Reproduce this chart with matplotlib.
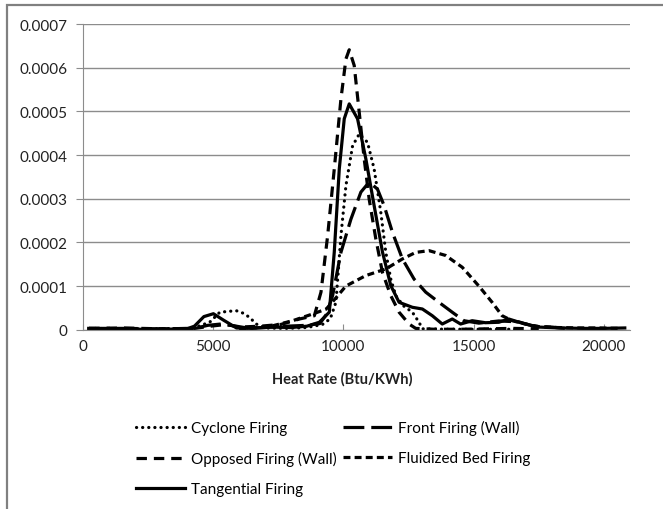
import matplotlib
matplotlib.use("Agg")
import matplotlib.pyplot as plt
import matplotlib.patches as patches
import numpy as np

plt.rcParams['font.family'] = ['Lato', 'DejaVu Sans']
plt.rcParams['lines.scale_dashes'] = False

# --- data ---
cyclone_x = [250, 1500, 3000, 4200, 4870, 5260, 5600, 5892, 6150, 6400, 6657, 7000, 7800, 8600,
             9200, 9500, 9717, 9908, 10100, 10355, 10610, 10929, 11183, 11438, 11630, 11821,
             12013, 12300, 12650, 12905, 13033, 14000, 15000, 16000, 17000]
cyclone_y = [0.000003, 0.000002, 0.000002, 0.000003, 0.000017, 0.00004, 0.000042, 0.0000435,
             0.000038, 0.0000284, 0.000013, 0.000004, 0.000003, 0.000005, 0.000012, 0.000025,
             0.000063, 0.000215, 0.00033, 0.000421, 0.000448, 0.000429, 0.000368, 0.000269,
             0.000177, 0.000116, 0.000078, 0.000055, 0.00004, 0.000017, 0.000002, 0.000001,
             0.000001, 0.000001, 0.000001]

front_x = [250, 1500, 3000, 4300, 4800, 5300, 5800, 6300, 7000, 7800, 8600, 9100, 9350, 9589,
           9908, 10291, 10674, 10992, 11310, 11566, 11885, 12267, 12714, 13161, 13670, 14180,
           14627, 15200, 15966, 16730, 17300, 18000, 18500]
front_y = [0.000003, 0.000003, 0.000002, 0.000003, 0.00001, 0.000013, 0.000009, 0.000004,
           0.000005, 0.000008, 0.00001, 0.000014, 0.000035, 0.000078, 0.000177, 0.000253,
           0.000315, 0.000338, 0.000322, 0.000284, 0.000223, 0.000162, 0.000116, 0.000086,
           0.0000627, 0.00004, 0.0000206, 0.000015, 0.00002, 0.000018, 0.000008, 0.000006,
           0.000003]

opposed_x = [250, 1500, 3000, 4300, 4900, 5500, 6000, 6800, 7600, 8314, 8888, 9143, 9398, 9653,
             9908, 10100, 10227, 10418, 10610, 10801, 10992, 11247, 11502, 11821, 12140, 12522,
             12778, 13500, 14500, 15500, 16500, 17500]
opposed_y = [0.000003, 0.000004, 0.000002, 0.000003, 0.000008, 0.000012, 0.000006, 0.000008,
             0.000012, 0.0000245, 0.000032, 0.000086, 0.000215, 0.000368, 0.000528, 0.00062,
             0.000641, 0.000605, 0.000498, 0.000391, 0.000299, 0.000208, 0.000131, 0.000078,
             0.00004, 0.000013, 0.000003, 0.000001, 0.000001, 0.000002, 0.000003, 0.000002]

fluidized_x = [6000, 6600, 7293, 8058, 8823, 9335, 9462, 10100, 10865, 11630, 12267, 12778,
               13288, 13926, 14563, 15200, 15710, 16093, 16475, 16987, 17500, 18200, 19000,
               19800, 20600]
fluidized_y = [0.000002, 0.000004, 0.000009, 0.0000206, 0.000036, 0.000047, 0.000055, 0.0001,
               0.000124, 0.000139, 0.000162, 0.000177, 0.000181, 0.00017, 0.000143, 0.0001,
               0.0000627, 0.000032, 0.0000206, 0.000013, 0.000007, 0.000005, 0.000004,
               0.000004, 0.000003]

tangential_x = [230, 1000, 2000, 3000, 4000, 4285, 4650, 5015, 5400, 5900, 6500, 7200, 8000,
                8600, 9080, 9462, 9653, 9845, 10036, 10227, 10546, 10865, 11183, 11502, 11821,
                12140, 12650, 13033, 13415, 13797, 14180, 14500, 14945, 15450, 15966, 16350,
                16857, 17500, 18300, 19200, 20000, 20800]
tangential_y = [0.000003, 0.000002, 0.000001, 0.000001, 0.000002, 0.000008, 0.00003, 0.0000366,
                0.000022, 0.000004, 0.000003, 0.000006, 0.000005, 0.000008, 0.000017, 0.00004,
                0.000178, 0.000368, 0.000483, 0.000517, 0.000483, 0.000391, 0.000284, 0.000178,
                0.000101, 0.0000627, 0.0000513, 0.0000474, 0.000032, 0.000013, 0.0000245,
                0.000013, 0.0000206, 0.000016, 0.000017, 0.0000245, 0.000015, 0.000006,
                0.000004, 0.000003, 0.000003, 0.000004]

x_ticks = [0, 5000, 10000, 15000, 20000]
y_ticks = [0, 0.0001, 0.0002, 0.0003, 0.0004, 0.0005, 0.0006, 0.0007]
y_labels = ['0', '0.0001', '0.0002', '0.0003', '0.0004', '0.0005', '0.0006', '0.0007']

# --- figure ---
W, H = 663, 510
fig = plt.figure(figsize=(W / 100, H / 100), dpi=100)
ax = fig.add_axes([82.7 / W, 1 - 330.7 / H, (630 - 82.7) / W, (330.7 - 25) / H])

# chart border (only left and top visible in the crop)
fig.patches.append(patches.Rectangle((7.3 / W, -0.1), 1.2, 1 - 6 / H + 0.1,
                                     transform=fig.transFigure, fill=False,
                                     edgecolor='#808080', linewidth=1.6))

lw = 2.3
c = 'black'
ax.plot(cyclone_x, cyclone_y, color=c, lw=lw, dashes=(0.1, 4.3),
        dash_capstyle='round', label='Cyclone Firing')
ax.plot(front_x, front_y, color=c, lw=lw, dashes=(15, 5), label='Front Firing (Wall)')
ax.plot(opposed_x, opposed_y, color=c, lw=lw, dashes=(7.5, 5), label='Opposed Firing (Wall)')
ax.plot(fluidized_x, fluidized_y, color=c, lw=lw, dashes=(5, 3), label='Fluidized Bed Firing')
ax.plot(tangential_x, tangential_y, color=c, lw=lw, label='Tangential Firing')

ax.set_xlim(0, 21000)
ax.set_ylim(0, 0.0007)
ax.set_xticks(x_ticks)
ax.set_xticklabels([str(v) for v in x_ticks])
ax.set_yticks(y_ticks)
ax.set_yticklabels(y_labels)
ax.yaxis.grid(True, color='#8c8c8c', linewidth=1.0)
ax.set_axisbelow(True)
for s in ['top', 'right']:
    ax.spines[s].set_visible(False)
ax.spines['left'].set_color('#8c8c8c')
ax.spines['bottom'].set_color('#8c8c8c')
ax.tick_params(axis='x', direction='in', length=4, color='#8c8c8c', labelsize=11, pad=7,
               labelcolor='#222222')
ax.tick_params(axis='y', direction='out', length=5, color='#8c8c8c', labelsize=11, pad=6,
               labelcolor='#222222')

fig.text(342 / W, 1 - 379 / H, 'Heat Rate (Btu/KWh)', ha='center', va='center',
         fontsize=10.5, fontweight='bold', color='#222222')

handles, labels = ax.get_legend_handles_labels()
order = [0, 2, 4, 1, 3]
fig.legend([handles[i] for i in order], [labels[i] for i in order], ncol=2,
           loc='upper left', bbox_to_anchor=(130 / W, 1 - 415 / H), frameon=False,
           fontsize=11, handlelength=3.2, handletextpad=0.4, columnspacing=0.4,
           labelspacing=1.05, borderaxespad=0)

fig.savefig('out.png', dpi=100)
